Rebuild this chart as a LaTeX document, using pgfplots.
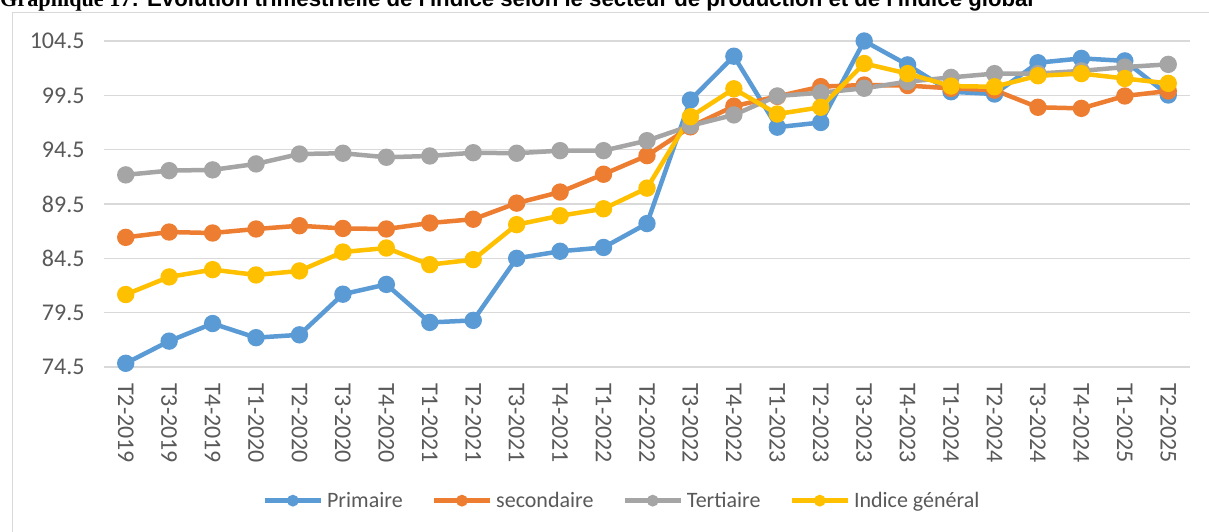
\documentclass[border=0pt]{standalone}
\usepackage{fontspec}
\setmainfont{Carlito}
\newfontfamily\titlesans{Liberation Sans}
\newfontfamily\titleserif{Liberation Serif}
\usepackage{pgfplots}
\pgfplotsset{compat=1.18}
\definecolor{cblue}{HTML}{5B9BD5}
\definecolor{corange}{HTML}{ED7D31}
\definecolor{cgray}{HTML}{A5A5A5}
\definecolor{cyellow}{HTML}{FFC000}
\definecolor{cgrid}{HTML}{D9D9D9}
\definecolor{ctext}{HTML}{595959}
\begin{document}
\begin{tikzpicture}
\useasboundingbox (0pt,0pt) rectangle (1209pt,532pt);
\fill[white] (0pt,0pt) rectangle (1209pt,532pt);
\draw[cgrid, line width=1.2pt] (12.5pt,-10pt) -- (12.5pt,519.5pt) -- (1220pt,519.5pt);
\node[anchor=base west, inner sep=0pt, font=\fontsize{22.2}{24}\selectfont\bfseries] at (0pt,525.5pt) {{\titleserif Graphique 17}{\titlesans: Évolution trimestrielle de l'indice selon le secteur de production et de l'indice global}};
\begin{axis}[
  at={(104pt,165pt)}, anchor=south west,
  width=1086pt, height=326pt, scale only axis,
  xmin=-0.5, xmax=24.5, ymin=74.5, ymax=104.5,
  clip=false,
  axis line style={draw=none},
  ytick={74.5,79.5,...,104.5},
  yticklabels={74.5,79.5,84.5,89.5,94.5,99.5,104.5},
  ymajorgrids, major grid style={cgrid, line width=1.3pt},
  xtick={0,...,24},
  xticklabels={T2-2019,T3-2019,T4-2019,T1-2020,T2-2020,T3-2020,T4-2020,T1-2021,T2-2021,T3-2021,T4-2021,T1-2022,T2-2022,T3-2022,T4-2022,T1-2023,T2-2023,T3-2023,T4-2023,T1-2024,T2-2024,T3-2024,T4-2024,T1-2025,T2-2025},
  major tick length=0pt,
  tick style={draw=none},
  yticklabel style={font=\fontsize{24}{26}\selectfont, text=ctext, anchor=east, xshift=-16pt},
  xticklabel style={font=\fontsize{24}{26}\selectfont, text=ctext, rotate=-90, anchor=west, inner sep=0pt},
  xticklabel shift=16pt,
  /pgf/number format/assume math mode=true,
  legend columns=4,
  legend style={draw=none, fill=none, at={(0.477,-0.41)}, anchor=center,
    font=\fontsize{22}{24}\selectfont, text=ctext,
    /tikz/every even column/.append style={column sep=27pt},
    /tikz/every odd column/.append style={column sep=2pt}},
  legend image code/.code={\draw[#1, mark repeat=2, mark phase=2] plot coordinates {(0pt,0pt) (28pt,0pt) (56pt,0pt)};},
  legend image post style={mark options={scale=0.55, draw=none}},
  every axis plot/.append style={line width=4.5pt, mark=*, mark size=6.4pt},
]
\addplot[cblue, mark options={fill=cblue, draw=none}] coordinates {
(0,74.84)(1,76.88)(2,78.5)(3,77.2)(4,77.46)(5,81.2)(6,82.1)(7,78.6)(8,78.79)(9,84.5)(10,85.15)(11,85.5)(12,87.7)(13,99.07)(14,103.1)(15,96.57)(16,97.0)(17,104.5)(18,102.3)(19,99.83)(20,99.62)(21,102.5)(22,102.9)(23,102.67)(24,99.53)};
\addlegendentry{Primaire}
\addplot[corange, mark options={fill=corange, draw=none}] coordinates {
(0,86.43)(1,86.92)(2,86.83)(3,87.2)(4,87.5)(5,87.25)(6,87.2)(7,87.75)(8,88.1)(9,89.58)(10,90.6)(11,92.24)(12,93.95)(13,96.6)(14,98.5)(15,99.4)(16,100.3)(17,100.45)(18,100.4)(19,100.14)(20,99.98)(21,98.4)(22,98.3)(23,99.44)(24,99.9)};
\addlegendentry{secondaire}
\addplot[cgray, mark options={fill=cgray, draw=none}] coordinates {
(0,92.18)(1,92.57)(2,92.64)(3,93.19)(4,94.1)(5,94.17)(6,93.8)(7,93.92)(8,94.22)(9,94.17)(10,94.41)(11,94.41)(12,95.33)(13,96.7)(14,97.7)(15,99.44)(16,99.74)(17,100.15)(18,100.76)(19,101.15)(20,101.5)(21,101.5)(22,101.75)(23,102.1)(24,102.35)};
\addlegendentry{Tertiaire}
\addplot[cyellow, mark options={fill=cyellow, draw=none}] coordinates {
(0,81.17)(1,82.79)(2,83.46)(3,82.97)(4,83.34)(5,85.08)(6,85.45)(7,83.92)(8,84.38)(9,87.6)(10,88.42)(11,89.06)(12,90.96)(13,97.53)(14,100.1)(15,97.78)(16,98.4)(17,102.43)(18,101.5)(19,100.35)(20,100.29)(21,101.3)(22,101.5)(23,101.05)(24,100.6)};
\addlegendentry{Indice général}
\end{axis}
\end{tikzpicture}
\end{document}
